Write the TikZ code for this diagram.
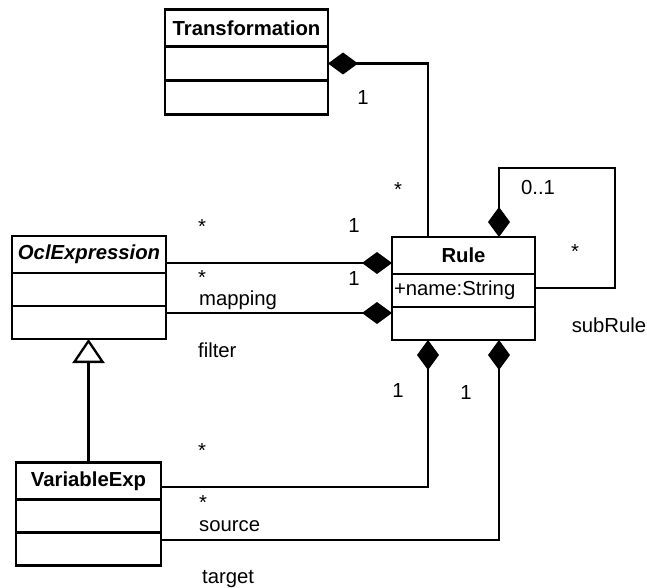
\documentclass[tikz,border=0pt]{standalone}
\usepackage{fontspec}
\setmainfont{Liberation Sans}
\usetikzlibrary{arrows.meta,positioning}

\begin{document}
\begin{tikzpicture}[
    x=1pt,y=-1pt,
    font=\fontsize{20.3}{24}\selectfont,
    line width=2.3pt,
    namepart/.style={draw,outer sep=0pt,inner sep=0pt,minimum height=37pt,
      font=\fontsize{20.3}{24}\selectfont\bfseries},
    bodypart/.style={draw,outer sep=0pt,inner sep=0pt,minimum height=33pt},
    comp/.style={-{Diamond[length=30pt,width=22pt]}},
    inherit/.style={-{Triangle[open,length=24pt,width=32pt]}},
    mult/.style={anchor=base,inner sep=0pt},
    role/.style={anchor=base west,inner sep=0pt}
  ]
    \useasboundingbox (0,0) rectangle (647,588);

    % classes: name, attributes, operations
    \node[namepart,minimum width=163pt] (trans-n) at (246.5,28) {Transformation};
    \node[bodypart,minimum width=163pt,minimum height=34pt,
      below=0pt of trans-n] (trans-a) {};
    \node[bodypart,minimum width=163pt,minimum height=34pt,
      below=0pt of trans-a] (trans-o) {};

    \node[namepart,minimum width=154pt] (ocl-n) at (89,254.5)
      {\itshape OclExpression};
    \node[bodypart,minimum width=154pt,below=0pt of ocl-n] (ocl-a) {};
    \node[bodypart,minimum width=154pt,below=0pt of ocl-a] (ocl-o) {};

    \node[namepart,minimum width=143pt] (rule-n) at (463.5,255.5) {Rule};
    \node[bodypart,text width=139pt,inner xsep=2pt,align=left,
      below=0pt of rule-n] (rule-a) {+name:String};
    \node[bodypart,minimum width=143pt,below=0pt of rule-a] (rule-o) {};

    \node[namepart,minimum width=145pt] (var-n) at (88.5,481) {VariableExp};
    \node[bodypart,minimum width=145pt,below=0pt of var-n] (var-a) {};
    \node[bodypart,minimum width=145pt,below=0pt of var-a] (var-o) {};

    \coordinate (loop) at (615,168);

    \draw[comp] ([xshift=-35.5pt]rule-n.north) |- (trans-a.east);
    \draw[comp] (rule-a.east |- 0,288) -| (loop)
      -| ([xshift=35.5pt]rule-n.north);
    \draw[comp] (ocl-n.east |- 0,263) -- (rule-n.west |- 0,263);
    \draw[comp] (ocl-o.east |- 0,313) -- (rule-o.west |- 0,313);
    \draw[comp] (var-n.east |- 0,487) -| ([xshift=-35.5pt]rule-o.south);
    \draw[comp] (var-o.east |- 0,540) -| ([xshift=35.5pt]rule-o.south);
    \draw[inherit] (var-n.north) -- (var-n.north |- ocl-o.south);

    % multiplicities and role names
    \node[mult] (m-trans) at (363,105) {1};
    \node[mult] (m-rule) at (398,196.5) {*};
    \node[mult] (m-parent) at (538,194) {0..1};
    \node[mult] (m-sub) at (575,258.5) {*};
    \node[mult] (r-sub) at (609,332) {subRule};
    \node[mult] (m-map) at (202,233) {*};
    \node[mult] (m-map1) at (354,232) {1};
    \node[mult] (m-filt) at (202,284.5) {*};
    \node[mult] (m-filt1) at (354,285) {1};
    \node[role] (r-map) at (198,305) {mapping};
    \node[role] (r-filt) at (197,357) {filter};
    \node[mult] (m-src1) at (398,397) {1};
    \node[mult] (m-tgt1) at (466,399) {1};
    \node[mult] (m-src) at (202,457.5) {*};
    \node[mult] (m-tgt) at (203,509.5) {*};
    \node[role] (r-src) at (198,531) {source};
    \node[role] (r-tgt) at (201,583) {target};
\end{tikzpicture}
\end{document}
